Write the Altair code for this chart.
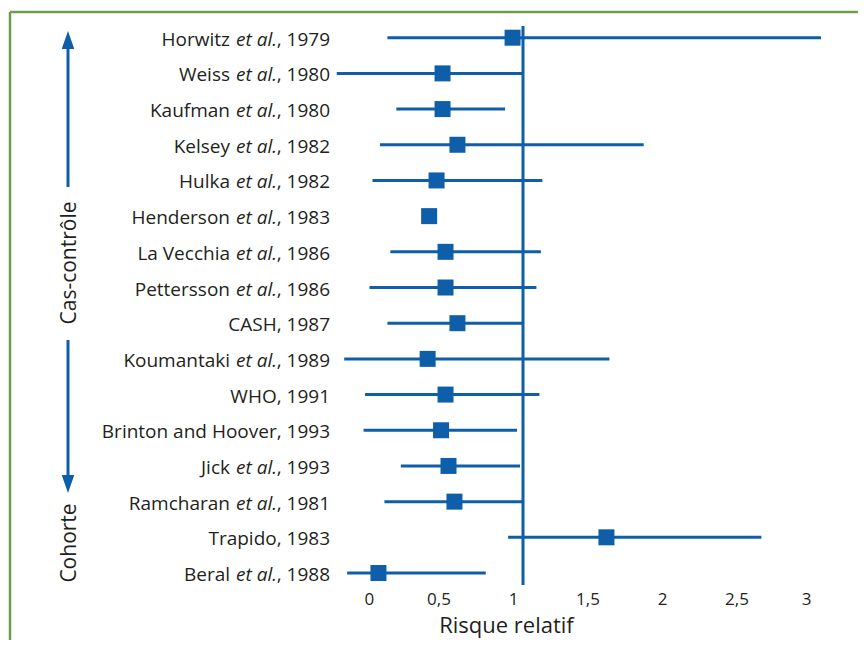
import altair as alt
import pandas as pd

names = ["Horwitz", "Weiss", "Kaufman", "Kelsey", "Hulka", "Henderson",
         "La Vecchia", "Pettersson", "CASH", "Koumantaki", "WHO",
         "Brinton and Hoover", "Jick", "Ramcharan", "Trapido", "Beral"]
et_al = [True, True, True, True, True, True, True, True, False, True, False,
         False, True, True, False, True]
years = [1979, 1980, 1980, 1982, 1982, 1983, 1986, 1986, 1987, 1989, 1991,
         1993, 1993, 1981, 1983, 1988]
rr = [0.93, 0.46, 0.46, 0.56, 0.42, 0.37, 0.48, 0.48, 0.56, 0.36, 0.48,
      0.45, 0.50, 0.54, 1.56, 0.03]
lo = [0.09, -0.25, 0.15, 0.04, -0.01, None, 0.11, -0.03, 0.09, -0.20, -0.06,
      -0.07, 0.18, 0.07, 0.90, -0.18]
hi = [3.0, 1.0, 0.88, 1.81, 1.13, None, 1.12, 1.09, 1.0, 1.58, 1.11,
      0.96, 0.98, 1.0, 2.6, 0.75]
x_ticks = [0, 0.5, 1, 1.5, 2, 2.5, 3]

BLUE = "#0e5ea9"
TEXT = "#231f20"
GREEN = "#6f9d4f"
FONT = "Open Sans"

df = pd.DataFrame({
    "row": list(range(len(names))),
    "name": names,
    "etal": et_al,
    "year": years,
    "rr": rr,
    "lo": lo,
    "hi": hi,
})
df["full"] = [f"{n}, {y}" for n, y in zip(names, years)]
df["yeartxt"] = [f", {y}" for y in years]

one = pd.DataFrame({"a": [0]})

xscale = alt.Scale(domain=[0, 3], range=[366, 813], nice=False, zero=False)
xaxis = alt.Axis(values=x_ticks, labelExpr="replace(toString(datum.value), '.', ',')",
                 grid=False, domain=False, ticks=False, labelFont=FONT,
                 labelFontSize=17, labelColor=TEXT, labelPadding=3, labelOffset=-10,
                 title="Risque relatif", titleFont=FONT, titleFontSize=22,
                 titleFontWeight="normal", titleColor=TEXT, titleX=498, titleY=44,
                 titleBaseline="alphabetic", titleAnchor="middle", titleAlign="center")
yscale = alt.Scale(domain=[0, 15], range=[29.7, 565], nice=False, zero=False)


def X(field):
    return alt.X(field, type="quantitative", scale=xscale, axis=xaxis)


def Y():
    return alt.Y("row:Q", scale=yscale, axis=None)


base = alt.Chart(df)

ci = base.mark_rule(color=BLUE, strokeWidth=3).encode(x=X("lo"), x2="hi", y=Y())
sq = base.mark_square(color=BLUE, size=256, opacity=1).encode(x=X("rr"), y=Y())
ref = alt.Chart(one).mark_rule(color=BLUE, strokeWidth=3).encode(
    x=alt.X(datum=1, type="quantitative", scale=xscale, axis=xaxis),
    y=alt.value(18), y2=alt.value(577))

txt_kw = dict(font=FONT, fontSize=19, color=TEXT, align="right", baseline="middle", dy=2)
lab_full = base.transform_filter("!datum.etal").mark_text(**txt_kw).encode(
    x=alt.value(322), y=Y(), text="full:N")
lab_name = base.transform_filter("datum.etal").mark_text(**txt_kw).encode(
    x=alt.value(222), y=Y(), text="name:N")
lab_etal = base.transform_filter("datum.etal").mark_text(fontStyle="italic", **txt_kw).encode(
    x=alt.value(269), y=Y(), text=alt.value("et al."))
lab_year = base.transform_filter("datum.etal").mark_text(**txt_kw).encode(
    x=alt.value(322), y=Y(), text="yeartxt:N")

border_top = alt.Chart(one).mark_rule(color=GREEN, strokeWidth=2.5).encode(
    x=alt.value(2), x2=alt.value(850), y=alt.value(4))
border_left = alt.Chart(one).mark_rule(color=GREEN, strokeWidth=2.5).encode(
    x=alt.value(2), y=alt.value(4), y2=alt.value(640))

shaft_top = alt.Chart(one).mark_rule(color=BLUE, strokeWidth=3).encode(
    x=alt.value(60), y=alt.value(38), y2=alt.value(179))
shaft_bot = alt.Chart(one).mark_rule(color=BLUE, strokeWidth=3).encode(
    x=alt.value(60), y=alt.value(332), y2=alt.value(470))
head_up = alt.Chart(one).mark_point(shape="M0,-1L0.7,1L-0.7,1Z", filled=True, color=BLUE,
                                    size=324, opacity=1).encode(
    x=alt.value(60), y=alt.value(32))
head_down = alt.Chart(one).mark_point(shape="M-0.7,-1L0.7,-1L0,1Z", filled=True, color=BLUE,
                                      size=324, opacity=1).encode(
    x=alt.value(60), y=alt.value(476))
side_kw = dict(font=FONT, fontSize=21, color=TEXT, angle=270, align="center", baseline="middle")
t_cas = alt.Chart(one).mark_text(**side_kw).encode(
    x=alt.value(62), y=alt.value(255), text=alt.value("Cas-contrôle"))
t_coh = alt.Chart(one).mark_text(**side_kw).encode(
    x=alt.value(62), y=alt.value(535), text=alt.value("Cohorte"))

chart = alt.layer(
    border_top, border_left, ref, ci, sq, lab_full, lab_name, lab_etal, lab_year,
    shaft_top, shaft_bot, head_up, head_down, t_cas, t_coh
).properties(
    width=850, height=580,
    autosize=alt.AutoSizeParams(type="none"),
    padding={"left": 0, "top": 0, "right": 0, "bottom": 52},
    background="white",
).configure_view(stroke=None)

chart.save("out.html", embed_options={"renderer": "svg", "actions": False})
